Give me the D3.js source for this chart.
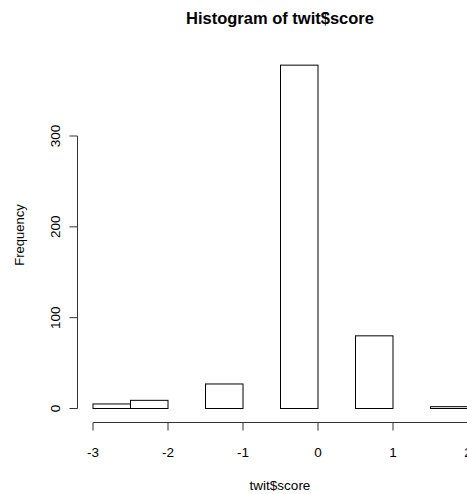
<!DOCTYPE html>
<meta charset="utf-8">
<style>
body { margin: 0; background: #fff; }
text { font-family: "Liberation Sans", Arial, sans-serif; fill: #000; }
</style>
<body>
<svg width="467" height="494"></svg>
<script src="https://d3js.org/d3.v7.min.js"></script>
<script>

// histogram bins (right-closed, width 0.5) and their counts
var binStart = [-3, -2.5, -2, -1.5, -1, -0.5, 0, 0.5, 1, 1.5];
var binEnd   = [-2.5, -2, -1.5, -1, -0.5, 0, 0.5, 1, 1.5, 2];
var counts   = [5, 9, 0, 27, 0, 378, 0, 80, 0, 2];
var xTicks = [-3, -2, -1, 0, 1, 2];
var yTicks = [0, 100, 200, 300];

var svg = d3.select("svg");

var x = d3.scaleLinear().domain([-3, 2]).range([93, 468]);
var y = d3.scaleLinear().domain([0, 300]).range([408.5, 136]);

var bins = counts.map(function(c, i) { return {x0: binStart[i], x1: binEnd[i], n: c}; });

svg.selectAll("rect.bar")
    .data(bins)
  .enter().append("rect")
    .attr("class", "bar")
    .attr("x", function(d) { return x(d.x0); })
    .attr("width", function(d) { return x(d.x1) - x(d.x0); })
    .attr("y", function(d) { return y(d.n); })
    .attr("height", function(d) { return y(0) - y(d.n); })
    .attr("fill", "none")
    .attr("stroke", "#000")
    .attr("stroke-width", 1);

// x axis
var xAxis = svg.append("g").attr("transform", "translate(0,422.5)");
xAxis.append("line")
    .attr("x1", x(-3)).attr("x2", x(2))
    .attr("stroke", "#333");
xAxis.selectAll("line.tick")
    .data(xTicks)
  .enter().append("line")
    .attr("class", "tick")
    .attr("x1", function(d) { return x(d); }).attr("x2", function(d) { return x(d); })
    .attr("y1", 0).attr("y2", 8)
    .attr("stroke", "#333");
xAxis.selectAll("text")
    .data(xTicks)
  .enter().append("text")
    .attr("x", function(d) { return x(d); })
    .attr("y", 34.5)
    .attr("text-anchor", "middle")
    .style("font-size", "13.5px")
    .text(function(d) { return d; });

// y axis
var yAxis = svg.append("g").attr("transform", "translate(77.5,0)");
yAxis.append("line")
    .attr("y1", y(0)).attr("y2", y(300))
    .attr("stroke", "#333");
yAxis.selectAll("line.tick")
    .data(yTicks)
  .enter().append("line")
    .attr("class", "tick")
    .attr("y1", function(d) { return y(d); }).attr("y2", function(d) { return y(d); })
    .attr("x1", 0).attr("x2", -8)
    .attr("stroke", "#333");
yAxis.selectAll("text")
    .data(yTicks)
  .enter().append("text")
    .attr("transform", function(d) { return "translate(-18," + y(d) + ") rotate(-90)"; })
    .attr("text-anchor", "middle")
    .style("font-size", "13.5px")
    .text(function(d) { return d; });

svg.append("text")
    .attr("x", 280).attr("y", 23.5)
    .attr("text-anchor", "middle")
    .style("font-size", "16.5px")
    .style("font-weight", "bold")
    .text("Histogram of twit$score");

svg.append("text")
    .attr("x", 280).attr("y", 490)
    .attr("text-anchor", "middle")
    .style("font-size", "13.5px")
    .text("twit$score");

svg.append("text")
    .attr("transform", "translate(24,235) rotate(-90)")
    .attr("text-anchor", "middle")
    .style("font-size", "13px")
    .text("Frequency");

</script>
</body>
